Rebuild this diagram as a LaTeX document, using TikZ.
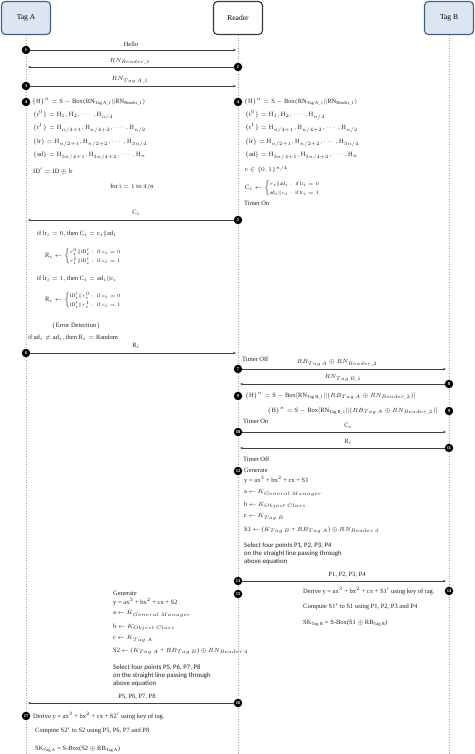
\documentclass[tikz,border=0pt]{standalone}
\usepackage{amsmath}
\usepackage{fontspec}
\setmainfont{Liberation Serif}
\newfontfamily\sansf{Carlito}
\usetikzlibrary{arrows.meta}
\definecolor{tagfill}{HTML}{DCE6F2}
\definecolor{tagline}{HTML}{41607F}
\definecolor{readline}{HTML}{3A3A3A}
\definecolor{arrowc}{HTML}{404040}
\definecolor{textc}{HTML}{222222}
\newcommand{\stk}[2]{\left\{\begin{array}{@{}l@{}}\mbox{\fontsize{5.2}{6}\selectfont$#1$}\\[1pt]\mbox{\fontsize{5.2}{6}\selectfont$#2$}\end{array}\right.}
\begin{document}
\begin{tikzpicture}[x=1pt,y=-1pt,
  actor/.style={draw, rounded corners=4pt, minimum width=49pt, minimum height=33pt, line width=1.1pt, font=\fontsize{7.5}{9}\selectfont},
  tagbox/.style={actor, fill=tagfill, draw=tagline},
  readbox/.style={actor, fill=white, draw=readline},
  life/.style={draw=gray!70, dotted, line width=0.6pt},
  msg/.style={draw=arrowc, line width=0.55pt, -{Stealth[length=3pt,width=2.4pt]}},
  num/.style={circle, fill=black, text=white, inner sep=0pt, minimum size=8.5pt, font=\fontsize{4.5}{5}\selectfont\bfseries},
  txt/.style={anchor=west, inner sep=0pt, text=textc, font=\fontsize{6.5}{8}\selectfont},
  ctxt/.style={txt, anchor=center},
  stxt/.style={txt, font=\fontsize{6.8}{8}\sansf}
]
\useasboundingbox (0,0) rectangle (474,754);
% actors
\node[tagbox] (tagA) at (26,18) {Tag A};
\node[readbox] (reader) at (238,18) {Reader};
\node[tagbox] (tagB) at (449,18) {Tag B};
\coordinate (endA) at (26,754);
\coordinate (endR) at (238,754);
\coordinate (endB) at (449,754);
\draw[life] (tagA) -- (endA);
\draw[life] (reader) -- (endR);
\draw[life] (tagB) -- (endB);

% step 1-3
\node[num] (n1) at (26,50) {1};
\coordinate (h1) at (236,50);
\draw[msg] (n1) -- (h1);
\node[ctxt] (l1) at (131,44) {Hello};
\node[num] (n2) at (238,67) {2};
\coordinate (h2) at (28,67);
\draw[msg] (n2) -- (h2);
\node[ctxt] (l2) at (130,61) {$RN_{Reader\_1}$};
\node[num] (n3) at (26,86) {3};
\coordinate (h3) at (236,86);
\draw[msg] (n3) -- (h3);
\node[ctxt] (l3) at (130,80) {$RN_{Tag\,A\_1}$};

% step 4 Tag A
\node[num] (n4a) at (26,102) {4};
\node[txt] (a1) at (32,102) {$\{\mathrm{H}\}^n=\mathrm{S}-\mathrm{Box}(\mathrm{RN}_{\mathrm{Tag\,A\_1}}\|\mathrm{RN}_{\mathrm{Reader\_1}})$};
\node[txt] (a2) at (33,115) {$\{\mathrm{r}^0\}=\mathrm{H}_1,\mathrm{H}_2,\cdots,\mathrm{H}_{n/4}$};
\node[txt] (a3) at (33,128) {$\{\mathrm{r}^1\}=\mathrm{H}_{n/4+1},\mathrm{H}_{n/4+2},\cdots,\mathrm{H}_{n/2}$};
\node[txt] (a4) at (33,143) {$\{\mathrm{lr}\}=\mathrm{H}_{n/2+1},\mathrm{H}_{n/2+2},\cdots,\mathrm{H}_{3n/4}$};
\node[txt] (a5) at (33,156) {$\{\mathrm{ad}\}=\mathrm{H}_{3n/4+1},\mathrm{H}_{3n/4+2},\cdots,\mathrm{H}_{n}$};
\node[txt] (a6) at (33,171) {$\mathrm{ID}'=\mathrm{ID}\oplus\mathrm{lr}$};
\node[ctxt] (a7) at (132,187) {for $\mathrm{i}=1$ to $4/\mathrm{n}$};

% step 4 Reader
\node[num] (n4b) at (238,102) {4};
\node[txt] (b1) at (244,102) {$\{\mathrm{H}\}^n=\mathrm{S}-\mathrm{Box}(\mathrm{RN}_{\mathrm{Tag\,A\_1}}\|\mathrm{RN}_{\mathrm{Reader\_1}})$};
\node[txt] (b2) at (245,115) {$\{\mathrm{r}^0\}=\mathrm{H}_1,\mathrm{H}_2,\cdots,\mathrm{H}_{n/4}$};
\node[txt] (b3) at (245,128) {$\{\mathrm{r}^1\}=\mathrm{H}_{n/4+1},\mathrm{H}_{n/4+2},\cdots,\mathrm{H}_{n/2}$};
\node[txt] (b4) at (245,143) {$\{\mathrm{lr}\}=\mathrm{H}_{n/2+1},\mathrm{H}_{n/2+2},\cdots,\mathrm{H}_{3n/4}$};
\node[txt] (b5) at (245,156) {$\{\mathrm{ad}\}=\mathrm{H}_{3n/4+1},\mathrm{H}_{3n/4+2},\cdots,\mathrm{H}_{n}$};
\node[txt] (b6) at (245,169.5) {$\mathrm{c}\in\{0,1\}^{n/4}$};
\node[txt] (b7) at (245,188) {$\mathrm{C}_i\leftarrow\stk{r_i\|\mathrm{ad}_i:\ \mathrm{if}\ \mathrm{lr}_i=0}{\mathrm{ad}_i\|c_i:\ \mathrm{if}\ \mathrm{lr}_i=1}$};
\node[txt] (b8) at (244,203.5) {Timer On};

% step 5
\node[num] (n5) at (238,220) {5};
\coordinate (h5) at (28,220);
\draw[msg] (n5) -- (h5);
\node[ctxt] (l5) at (136,213) {$\mathrm{C}_i$};
\node[txt] (c1) at (37,234) {$\mathrm{if\ lr}_i=0,\mathrm{then\ C}_i=\mathrm{c}_i\|\mathrm{ad}_i$};
\node[txt] (c2) at (45,256) {$\mathrm{R}_i\leftarrow\stk{r_i^0\|\mathrm{ID}'_i:\ \mathrm{if}\ c_i=0}{r_i^1\|\mathrm{ID}'_i:\ \mathrm{if}\ c_i=1}$};
\node[txt] (c3) at (37,279) {$\mathrm{if\ lr}_i=1,\mathrm{then\ C}_i=\mathrm{ad}_i\|\mathrm{c}_i$};
\node[txt] (c4) at (45,300) {$\mathrm{R}_i\leftarrow\stk{\mathrm{ID}'_i\|r_i^0:\ \mathrm{if}\ c_i=0}{\mathrm{ID}'_i\|r_i^1:\ \mathrm{if}\ c_i=1}$};
\node[ctxt] (c5) at (76,326) {$\{\mathrm{Error\ Detection}\}$};
\node[txt] (c6) at (28,338) {$\mathrm{if\ ad}_i\neq\mathrm{ad}_i,\mathrm{then\ R}_i=\mathrm{Random}$};

% step 6
\node[num] (n6) at (26,353) {6};
\coordinate (h6) at (236,353);
\draw[msg] (n6) -- (h6);
\node[ctxt] (l6) at (136,346) {$\mathrm{R}_i$};

% step 7-8
\node[txt] (d1) at (242,359) {Timer Off};
\node[num] (n7) at (238,369) {7};
\coordinate (h7) at (446,369);
\draw[msg] (n7) -- (h7);
\node[ctxt] (l7) at (337,363) {$RB_{Tag\,A}\oplus RN_{Reader\_2}$};
\node[num] (n8) at (449,384) {8};
\coordinate (h8) at (240,384);
\draw[msg] (n8) -- (h8);
\node[ctxt] (l8) at (343,378) {$RN_{Tag\,B\_1}$};

% step 9
\node[num] (n9a) at (238,396) {9};
\node[txt] (e1) at (245,396) {$\{\mathrm{H}\}^n=\mathrm{S}-\mathrm{Box}[\mathrm{RN}_{\mathrm{Tag\,B\_1}}\|(RB_{Tag\,A}\oplus RN_{Reader\_2})]$};
\node[num] (n9b) at (449,411) {9};
\node[txt, anchor=east] (e2) at (438,411) {$\{\mathrm{H}\}^n=\mathrm{S}-\mathrm{Box}[\mathrm{RN}_{\mathrm{Tag\,B\_1}}\|(RB_{Tag\,A}\oplus RN_{Reader\_2})]$};
\node[txt] (e3) at (243,421) {Timer On};

% step 10-11
\node[num] (n10) at (238,432) {10};
\coordinate (h10) at (446,432);
\draw[msg] (n10) -- (h10);
\node[ctxt] (l10) at (348,426) {$\mathrm{C}_i$};
\node[num] (n11) at (449,448) {11};
\coordinate (h11) at (240,448);
\draw[msg] (n11) -- (h11);
\node[ctxt] (l11) at (348,442) {$\mathrm{R}_i$};
\node[txt] (f0) at (243,459) {Timer Off};

% step 12
\node[num] (n12) at (238,471) {12};
\node[txt] (f1) at (244,470) {Generate};
\node[txt] (f2) at (244,480) {y = ax$^3$ + bx$^2$ + cx + S1};
\node[txt] (f3) at (244,493) {a $\leftarrow$ $K_{General\ Manager}$};
\node[txt] (f4) at (244,505) {b $\leftarrow$ $K_{Object\ Class}$};
\node[txt] (f5) at (244,517) {c $\leftarrow$ $K_{Tag\ B}$};
\node[txt] (f6) at (244,530) {S1 $\leftarrow$ ($K_{Tag\ B}$ + $RB_{Tag\ A}$) $\oplus$ $RN_{Reader\ 3}$};
\node[stxt] (f7) at (244,546) {Select four points P1, P2, P3, P4};
\node[stxt] (f8) at (244,554) {on the straight line passing through};
\node[stxt] (f9) at (244,562) {above equation};

% step 13
\node[num] (n13) at (238,581) {13};
\coordinate (h13) at (446,581);
\draw[msg] (n13) -- (h13);
\node[ctxt] (l13) at (347,575) {P1, P2, P3, P4};

% step 14
\node[num] (n14) at (449,591) {14};
\node[txt] (g1) at (303,591) {Derive y = ax$^3$ + bx$^2$ + cx + S1$'$ using key of tag.};
\node[txt] (g2) at (303,607) {Compute S1$'$ to S1 using P1, P2, P3 and P4};
\node[txt] (g3) at (303,623) {SK$_{\mathrm{Tag\,B}}$ = S-Box(S1 $\oplus$ RB$_{\mathrm{Tag\,B}}$)};

% step 15
\node[num] (n15) at (238,594) {15};
\node[txt] (k1) at (113,593) {Generate};
\node[txt] (k2) at (113,602) {y = ax$^3$ + bx$^2$ + cx + S2};
\node[txt] (k3) at (113,614) {a $\leftarrow$ $K_{General\ Manager}$};
\node[txt] (k4) at (113,627) {b $\leftarrow$ $K_{Object\ Class}$};
\node[txt] (k5) at (113,639) {c $\leftarrow$ $K_{Tag\ A}$};
\node[txt] (k6) at (113,651) {S2 $\leftarrow$ ($K_{Tag\ A}$ + $RB_{Tag\ B}$) $\oplus$ $RN_{Reader\ 4}$};
\node[stxt] (k7) at (113,668) {Select four points P5, P6, P7, P8};
\node[stxt] (k8) at (113,676) {on the straight line passing through};
\node[stxt] (k9) at (113,684) {above equation};

% step 16
\node[num] (n16) at (238,703) {16};
\coordinate (h16) at (28,703);
\draw[msg] (n16) -- (h16);
\node[ctxt] (l16) at (137,697) {P5, P6, P7, P8};

% step 17
\node[num] (n17) at (26,716) {17};
\node[txt] (m1) at (33,716) {Derive y = ax$^3$ + bx$^2$ + cx + S2$'$ using key of tag.};
\node[txt] (m2) at (35,731) {Compute S2$'$ to S2 using P5, P6, P7 and P8};
\node[txt] (m3) at (35,749) {SK$_{\mathrm{Tag\,A}}$ = S-Box(S2 $\oplus$ RB$_{\mathrm{Tag\,A}}$)};
\end{tikzpicture}
\end{document}
